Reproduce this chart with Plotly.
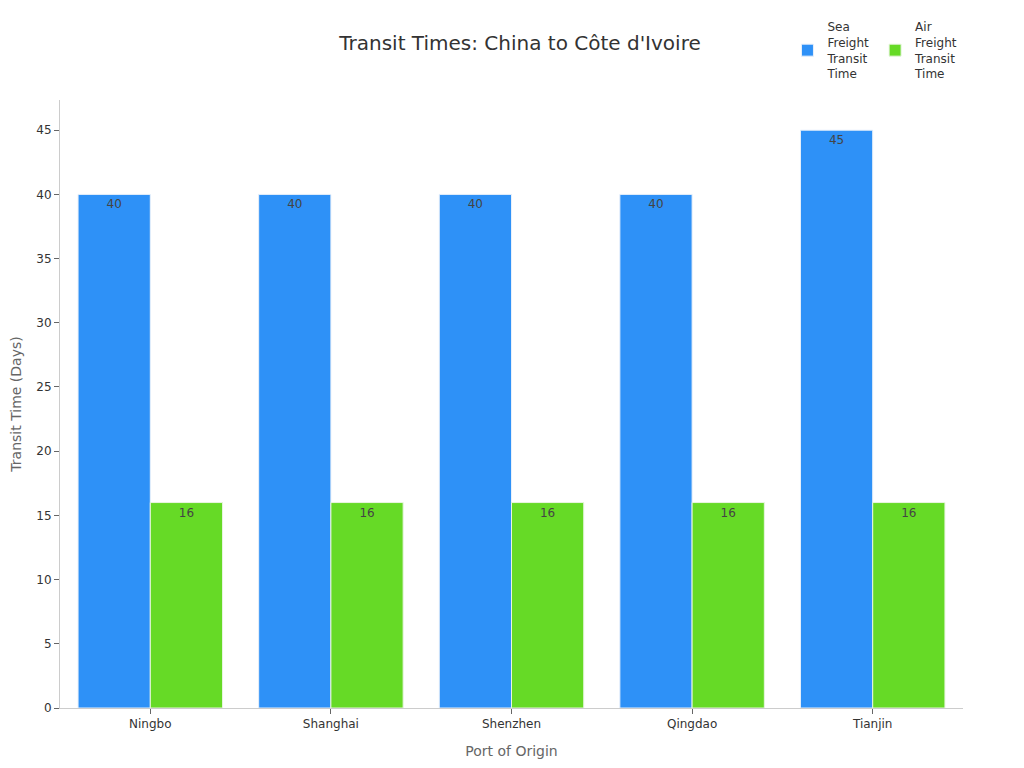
import plotly.graph_objects as go

ports = ["Ningbo", "Shanghai", "Shenzhen", "Qingdao", "Tianjin"]
sea_days = [40, 40, 40, 40, 45]
air_days = [16, 16, 16, 16, 16]

fig = go.Figure()
fig.add_trace(go.Bar(
    x=ports, y=sea_days, name="Sea<br>Freight<br>Transit<br>Time",
    marker=dict(color="#2E91F7", line=dict(color="#E8F0FA", width=1)),
    text=sea_days, textposition="inside", insidetextanchor="end",
    textfont=dict(color="#444444", size=12),
))
fig.add_trace(go.Bar(
    x=ports, y=air_days, name="Air<br>Freight<br>Transit<br>Time",
    marker=dict(color="#66DA26", line=dict(color="#E8F5E0", width=1)),
    text=air_days, textposition="inside", insidetextanchor="end",
    textfont=dict(color="#444444", size=12),
))

fig.update_layout(
    width=1024, height=768,
    template="plotly_white",
    font=dict(family="DejaVu Sans", color="#333333", size=12),
    title=dict(text="Transit Times: China to Côte d'Ivoire", x=0.5, xanchor="center",
               y=0.954, yanchor="middle", font=dict(size=20, color="#333333")),
    barmode="group", bargap=0.2, bargroupgap=0,
    margin=dict(l=52, r=69, t=92, b=68, autoexpand=False),
    legend=dict(orientation="h", x=0.8056, xanchor="left", y=1.144, yanchor="top",
                font=dict(size=12)),
    xaxis=dict(title=dict(text="Port of Origin", font=dict(size=14, color="#666666")),
               showline=True, linecolor="#CCCCCC", ticks="outside", tickcolor="#666666",
               showgrid=False),
    yaxis=dict(title=dict(text="Transit Time (Days)", standoff=16,
                          font=dict(size=14, color="#666666")),
               range=[0, 47.35], dtick=5, showline=True, linecolor="#CCCCCC",
               ticks="outside", tickcolor="#666666", showgrid=False, zeroline=False),
)

fig.write_html("out.html")
